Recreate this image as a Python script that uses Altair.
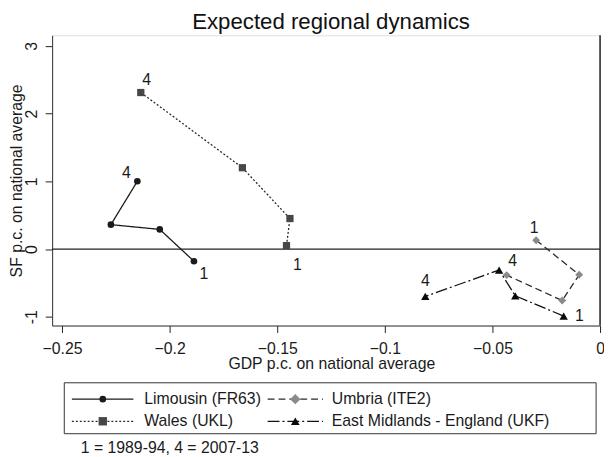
import altair as alt
import pandas as pd

# ---------------- data ----------------
regions = ["Limousin (FR63)", "Wales (UKL)", "Umbria (ITE2)", "East Midlands - England (UKF)"]
periods = [1, 2, 3, 4]

gdp_limousin = [-0.1887, -0.2046, -0.2273, -0.2150]
sf_limousin = [-0.18, 0.29, 0.36, 1.00]
gdp_wales = [-0.1457, -0.1441, -0.1662, -0.2134]
sf_wales = [0.05, 0.45, 1.20, 2.31]
gdp_umbria = [-0.0297, -0.0097, -0.0176, -0.0434]
sf_umbria = [0.13, -0.38, -0.76, -0.385]
gdp_emid = [-0.0169, -0.0394, -0.0469, -0.0812]
sf_emid = [-0.99, -0.69, -0.31, -0.70]

labelled_periods = [1, 4]
x_ticks = [-0.25, -0.2, -0.15, -0.1, -0.05, 0]
y_ticks = [-1, 0, 1, 2, 3]
title_text = "Expected regional dynamics"
x_title = "GDP p.c. on national average"
y_title = "SF p.c. on national average"
footnote = "1 = 1989-94, 4 = 2007-13"

gdp_series = [gdp_limousin, gdp_wales, gdp_umbria, gdp_emid]
sf_series = [sf_limousin, sf_wales, sf_umbria, sf_emid]

rows = []
for r, gs, ss in zip(regions, gdp_series, sf_series):
    for p, g, s in zip(periods, gs, ss):
        rows.append({"region": r, "period": p, "gdp": g, "sf": s, "plabel": str(p)})
df = pd.DataFrame(rows)

# ---------------- styles ----------------
FONT = "Liberation Sans"
W, H = 555, 294
line_colors = ["#1a1a1a", "#2a2a2a", "#2a2a2a", "#111111"]
marker_colors = ["#1a1a1a", "#474747", "#8a8a8a", "#0a0a0a"]
dashes = [[1, 0], [2, 2], [7, 4], [12, 3, 2, 3]]
shapes = ["circle", "square", "diamond", "triangle-up"]
sizes = [45, 72, 110, 78]

# label offsets (px) for period labels, by region index and period
label_offsets = {
    (0, 4): (-11, -8), (0, 1): (10, 13),
    (1, 4): (6, -13), (1, 1): (11, 20),
    (2, 1): (-2, -12), (2, 4): (6, -14),
    (3, 4): (0, -16), (3, 1): (16, 0),
}

x_enc = alt.X(
    "gdp:Q",
    scale=alt.Scale(domain=[-0.2546, 0], nice=False, zero=False),
    axis=alt.Axis(
        values=x_ticks, format="~g", grid=False, tickSize=7, tickColor="#222",
        domainColor="#333", labelFontSize=16, labelFont=FONT, labelColor="#1a1a1a",
        labelPadding=8, labelBaseline="top", labelFlush=False, labelOverlap=False,
        title=x_title, titleFontSize=16, titleFont=FONT, titleFontWeight="normal",
        titleColor="#1a1a1a", titleX=282.8, titleY=44, titleAlign="center",
        titleBaseline="alphabetic",
    ),
)
y_enc = alt.Y(
    "sf:Q",
    scale=alt.Scale(domain=[-1.129, 3.155], nice=False, zero=False),
    axis=alt.Axis(
        values=y_ticks, labelExpr="toString(datum.value)", grid=False, tickSize=7,
        tickColor="#222", domainColor="#333", labelFontSize=16, labelFont=FONT,
        labelColor="#1a1a1a", labelAngle=270, labelAlign="center",
        labelBaseline="alphabetic", labelPadding=9, labelFlush=False,
        labelOverlap=False, title=y_title, titleFontSize=16, titleFont=FONT,
        titleFontWeight="normal", titleColor="#1a1a1a", titleAngle=270,
        titleX=-31, titleY=147, titleAlign="center", titleBaseline="alphabetic",
    ),
)

base = alt.Chart(df)
one = pd.DataFrame({"a": [0]})

title_mark = alt.Chart(pd.DataFrame({"t": [title_text]})).mark_text(
    align="center", baseline="alphabetic", fontSize=22.5, font=FONT, color="#111"
).encode(x=alt.value(W / 2 + 5), y=alt.value(-6.7), text="t:N")

hline = alt.Chart(one).mark_rule(color="#222", strokeWidth=1.3).encode(y=alt.datum(0))
vline = alt.Chart(one).mark_rule(color="#222", strokeWidth=1.5).encode(x=alt.datum(0))

lines = base.mark_line(strokeWidth=1.3).encode(
    x=x_enc,
    y=y_enc,
    stroke=alt.Stroke("region:N", scale=alt.Scale(domain=regions, range=line_colors), legend=None),
    strokeDash=alt.StrokeDash("region:N", scale=alt.Scale(domain=regions, range=dashes), legend=None),
    order="period:Q",
)

points = base.mark_point(filled=True, opacity=1, strokeWidth=0).encode(
    x=x_enc,
    y=y_enc,
    fill=alt.Fill("region:N", scale=alt.Scale(domain=regions, range=marker_colors), legend=None),
    shape=alt.Shape("region:N", scale=alt.Scale(domain=regions, range=shapes), legend=None),
    size=alt.Size("region:N", scale=alt.Scale(domain=regions, range=sizes), legend=None),
)

label_layers = []
for i, r in enumerate(regions):
    for p in labelled_periods:
        dx, dy = label_offsets[(i, p)]
        label_layers.append(
            base.transform_filter(
                (alt.datum.region == r) & (alt.datum.period == p)
            ).mark_text(
                dx=dx, dy=dy, fontSize=16, font=FONT, color="#1a1a1a",
                align="center", baseline="middle",
            ).encode(x=x_enc, y=y_enc, text="plabel:N")
        )

# ---------------- manual legend (layout below the plot) ----------------
LEG_DY = 3
legend_box = alt.Chart(one).mark_rect(
    fill="white", fillOpacity=0, stroke="#333", strokeWidth=1
).encode(
    x=alt.value(12.3), x2=alt.value(551),
    y=alt.value(349 + LEG_DY), y2=alt.value(400.6 + LEG_DY),
)

col_line = [(20, 82.3), (218.3, 274.3)]
col_marker = [51.3, 246.3]
col_text = [93.3, 283.3]
row_y = [365.6 + LEG_DY, 388.0 + LEG_DY]

legend_layers = [legend_box]
for i, r in enumerate(regions):
    col, row = i // 2, i % 2
    d = pd.DataFrame({"region": [r]})
    x1, x2 = col_line[col]
    ry = row_y[row]
    legend_layers.append(
        alt.Chart(d).mark_rule(
            color=line_colors[i], strokeWidth=1.3, strokeDash=dashes[i]
        ).encode(x=alt.value(x1), x2=alt.value(x2), y=alt.value(ry))
    )
    legend_layers.append(
        alt.Chart(d).mark_point(
            filled=True, opacity=1, strokeWidth=0, shape=shapes[i],
            size=sizes[i], color=marker_colors[i],
        ).encode(x=alt.value(col_marker[col]), y=alt.value(ry))
    )
    legend_layers.append(
        alt.Chart(d).mark_text(
            align="left", baseline="middle", fontSize=16, font=FONT, color="#1a1a1a"
        ).encode(x=alt.value(col_text[col]), y=alt.value(ry), text="region:N")
    )

foot = alt.Chart(pd.DataFrame({"t": [footnote]})).mark_text(
    align="left", baseline="alphabetic", fontSize=16, font=FONT, color="#1a1a1a"
).encode(x=alt.value(29), y=alt.value(420.6 + LEG_DY), text="t:N")

chart = alt.layer(
    title_mark, hline, vline, lines, points, *label_layers, *legend_layers, foot
).properties(
    width=W,
    height=H,
    autosize=alt.AutoSizeParams(type="none"),
    padding={"left": 44.7, "top": 24.7, "right": 4, "bottom": 135},
).configure_view(stroke="#555", strokeWidth=1).configure(background="white")

chart.save("out.html", embed_options={"renderer": "svg", "actions": False})
